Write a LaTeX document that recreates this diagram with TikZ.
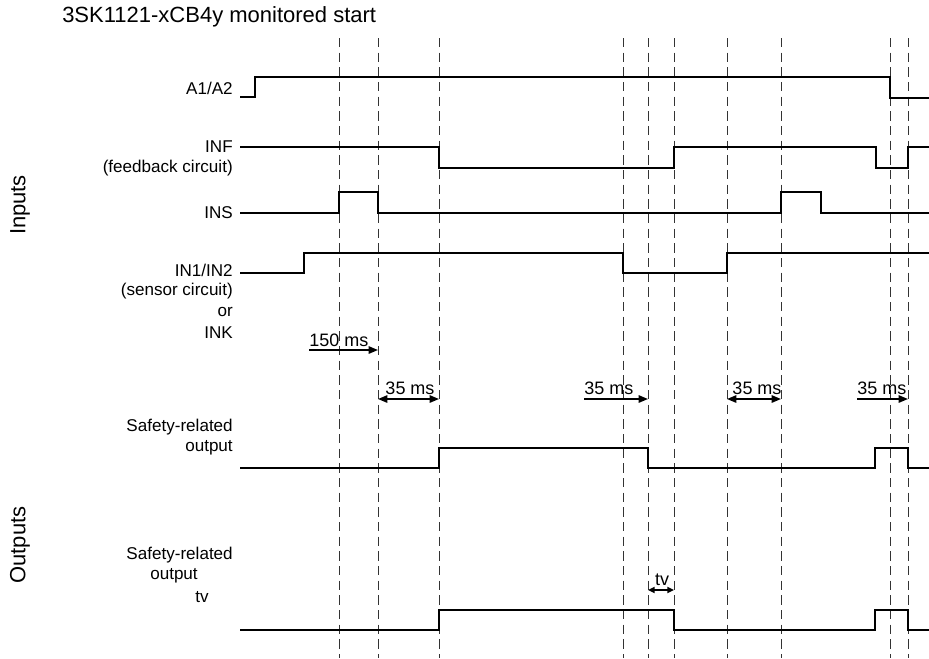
\documentclass[tikz,border=0pt]{standalone}
\usepackage{fontspec}
\setmainfont{Liberation Sans}
\usetikzlibrary{arrows.meta}
\begin{document}
\begin{tikzpicture}[x=0.75pt,y=-0.75pt,
  sig/.style={line width=1.9pt,line join=miter},
  guide/.style={line width=0.6pt,dash pattern=on 7pt off 4pt,black!80},
  lbl/.style={font=\fontsize{12.8}{14}\selectfont,anchor=east,inner sep=0pt},
  big/.style={font=\fontsize{16.5}{18}\selectfont,inner sep=0pt},
  ms/.style={font=\fontsize{13.5}{14}\selectfont,inner sep=0pt,anchor=south},
  dim/.style={line width=1.3pt},
  tip/.style={-{Triangle[length=7pt,width=5.5pt]}},
  dtip/.style={{Triangle[length=7pt,width=5.5pt]}-{Triangle[length=7pt,width=5.5pt]}}]
\useasboundingbox (0,0) rectangle (929,658);
% guides
\foreach \x in {339,378,439,623,648,674,727,781,890,908}
  \draw[guide] (\x,38) -- (\x,658);
% title and side labels
\node[big,anchor=west] (title) at (62,17) {3SK1121-xCB4y monitored start};
\node[big,rotate=90] (inputs) at (20,205) {Inputs};
\node[big,rotate=90] (outputs) at (20,545) {Outputs};
% labels
\node[lbl] (la) at (233,88) {A1/A2};
\node[lbl] (lf1) at (233,147) {INF};
\node[lbl] (lf2) at (233,168) {(feedback circuit)};
\node[lbl] (ls) at (233,213) {INS};
\node[lbl] (li1) at (233,270) {IN1/IN2};
\node[lbl] (li2) at (233,291) {(sensor circuit)};
\node[lbl] (li3) at (233,312) {or};
\node[lbl] (li4) at (233,333) {INK};
\node[lbl] (lo1) at (233,427) {Safety-related};
\node[lbl] (lo2) at (233,448) {output};
\node[lbl] (lt1) at (233,555) {Safety-related};
\node[lbl] (lt2) at (198,576) {output};
\node[lbl,anchor=west] (lt3) at (195,597) {tv};
% signals
\draw[sig] (240,97) -- (255,97) -- (255,77) -- (890,77) -- (890,98) -- (929,98);
\draw[sig] (240,147) -- (439,147) -- (439,168) -- (674,168) -- (674,147) -- (876,147) -- (876,168) -- (908,168) -- (908,147) -- (929,147);
\draw[sig] (240,213) -- (339,213) -- (339,192) -- (378,192) -- (378,213) -- (781,213) -- (781,192) -- (821,192) -- (821,213) -- (929,213);
\draw[sig] (240,273) -- (304,273) -- (304,253) -- (623,253) -- (623,273) -- (727,273) -- (727,253) -- (929,253);
\draw[sig] (240,468) -- (439,468) -- (439,448) -- (648,448) -- (648,468) -- (875,468) -- (875,448) -- (908,448) -- (908,468) -- (929,468);
\draw[sig] (240,630) -- (439,630) -- (439,610) -- (674,610) -- (674,630) -- (875,630) -- (875,610) -- (908,610) -- (908,630) -- (929,630);
% timing arrows
\coordinate (a1) at (309,350); \coordinate (a2) at (378,350);
\draw[dim,tip] (a1) -- (a2);
\node[ms,anchor=south west] (t150) at (309,347) {150 ms};
\coordinate (b1) at (378,399); \coordinate (b2) at (439,399);
\draw[dim,dtip] (b1) -- (b2);
\node[ms] (t35a) at (410,395) {35 ms};
\coordinate (c1) at (584,399); \coordinate (c2) at (648,399);
\draw[dim,tip] (c1) -- (c2);
\node[ms,anchor=south west] (t35b) at (584,395) {35 ms};
\coordinate (d1) at (727,399); \coordinate (d2) at (781,399);
\draw[dim,dtip] (d1) -- (d2);
\node[ms] (t35c) at (757,395) {35 ms};
\coordinate (e1) at (857,399); \coordinate (e2) at (908,399);
\draw[dim,tip] (e1) -- (e2);
\node[ms,anchor=south west] (t35d) at (857,395) {35 ms};
\coordinate (f1) at (648,590); \coordinate (f2) at (674,590);
\draw[dim,{Triangle[length=5pt,width=4.5pt]}-{Triangle[length=5pt,width=4.5pt]}] (f1) -- (f2);
\node[ms] (ttv) at (662,586) {tv};
\end{tikzpicture}
\end{document}
